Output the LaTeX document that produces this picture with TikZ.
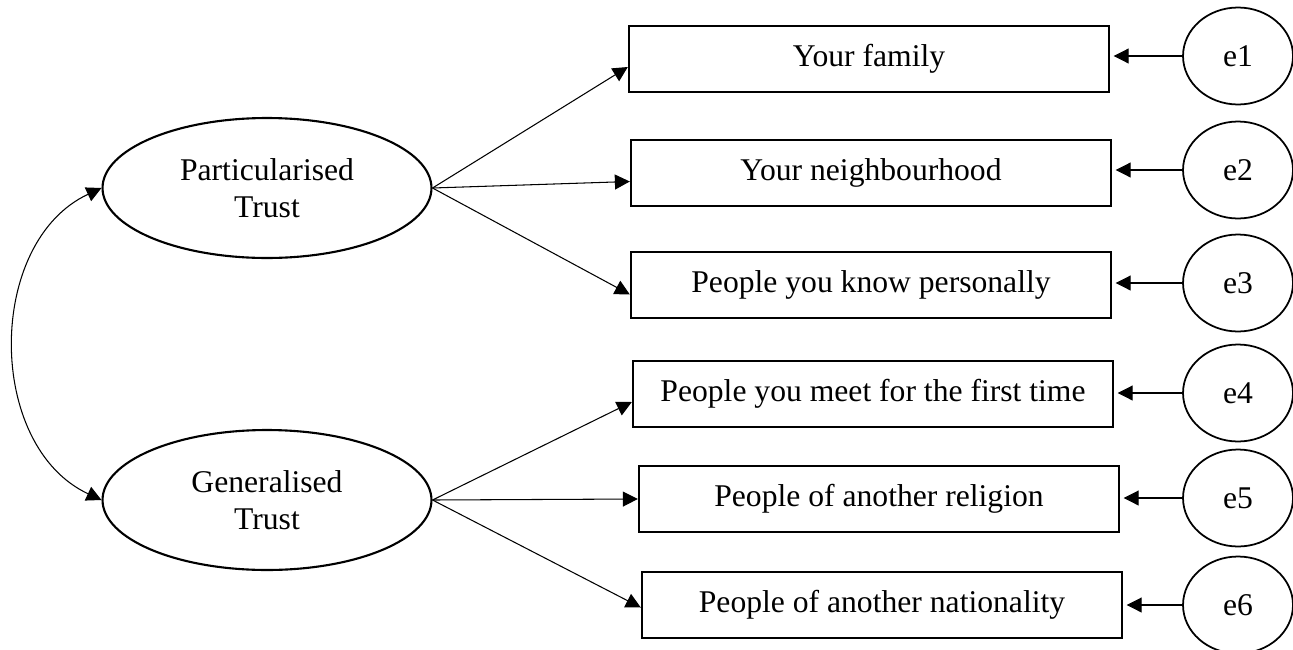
\documentclass[tikz,border=0pt]{standalone}
\usepackage{fontspec}
\setmainfont{Liberation Serif}
\usetikzlibrary{arrows.meta,shapes.geometric}

\begin{document}
\begin{tikzpicture}[x=0.02cm,y=-0.02cm,
        font=\fontsize{18}{21}\selectfont,
        >={Triangle[length=8.5pt,width=8.5pt]},
        item/.style={draw,line width=1.4pt,minimum width=9.6cm,minimum height=1.32cm,inner sep=0pt},
        factor/.style={draw,ellipse,line width=1.2pt,minimum width=6.58cm,minimum height=2.8cm,inner sep=0pt,align=center},
        err/.style={draw,ellipse,line width=1pt,minimum width=2.2cm,minimum height=1.94cm,inner sep=0pt},
        load/.style={->,line width=0.6pt},
        errarrow/.style={->,line width=0.6pt,shorten >=2pt}]
        \useasboundingbox (0,0) rectangle (1293,649);
        % latent factors
        \node[factor] (part) at (267,188) {Particularised\\Trust};
        \node[factor] (gen) at (267,500) {Generalised\\Trust};
        % indicators
        \node[item] (fam) at (869,59) {Your family};
        \node[item] (neigh) at (871,173) {Your neighbourhood};
        \node[item] (known) at (871,285) {People you know personally};
        \node[item] (first) at (873,394) {People you meet for the first time};
        \node[item] (relig) at (879,499) {People of another religion};
        \node[item] (nation) at (882,605) {People of another nationality};
        % error terms
        \node[err] (e1) at (1238,56) {e1};
        \node[err] (e2) at (1238,170) {e2};
        \node[err] (e3) at (1238,283) {e3};
        \node[err] (e4) at (1238,393) {e4};
        \node[err] (e5) at (1238,498) {e5};
        \node[err] (e6) at (1238,605) {e6};
        % covariance
        \draw[<->,line width=0.6pt] (part.west) to[out=205,in=155,looseness=1.05] (gen.west);
        % loadings
        \draw[load] (part.east) -- ([yshift=-0.16cm]fam.west);
        \draw[load] (part.east) -- ([yshift=-0.17cm]neigh.west);
        \draw[load] (part.east) -- ([yshift=-0.19cm]known.west);
        \draw[load] (gen.east) -- ([yshift=-0.16cm]first.west);
        \draw[load] (gen.east) -- (relig.west);
        \draw[load] (gen.east) -- ([yshift=-0.05cm]nation.west);
        % errors
        \draw[errarrow] (e1.west) -- (e1.west -| fam.east);
        \draw[errarrow] (e2.west) -- (e2.west -| neigh.east);
        \draw[errarrow] (e3.west) -- (e3.west -| known.east);
        \draw[errarrow] (e4.west) -- (e4.west -| first.east);
        \draw[errarrow] (e5.west) -- (e5.west -| relig.east);
        \draw[errarrow] (e6.west) -- (e6.west -| nation.east);
\end{tikzpicture}
\end{document}
